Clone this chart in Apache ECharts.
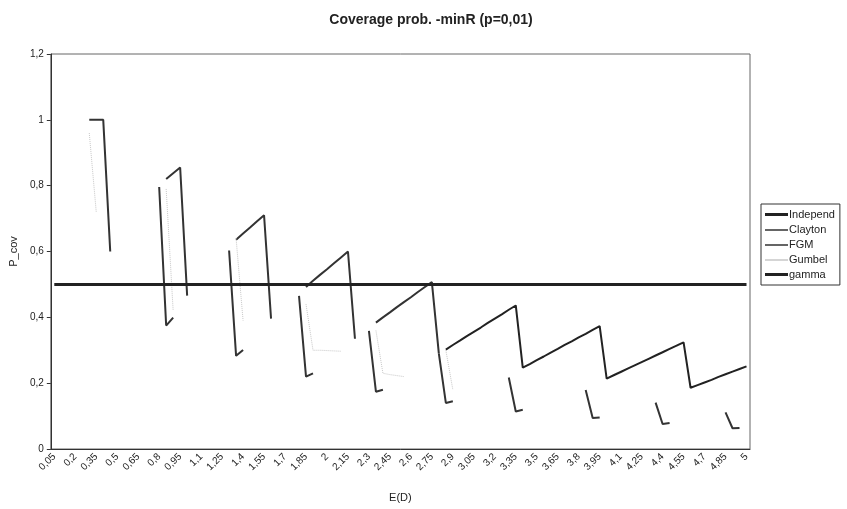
<!DOCTYPE html>
<html>
<head>
<meta charset="utf-8">
<script src="https://cdn.jsdelivr.net/npm/echarts@6/dist/echarts.min.js"></script>
<style>
html,body{margin:0;padding:0;background:#fff;}
#chart{width:847px;height:509px;}
</style>
</head>
<body>
<div id="chart"></div>
<script>
// Category labels (E(D))
var categories = ['0,05','0,1','0,15','0,2','0,25','0,3','0,35','0,4','0,45','0,5',
'0,55','0,6','0,65','0,7','0,75','0,8','0,85','0,9','0,95','1',
'1,05','1,1','1,15','1,2','1,25','1,3','1,35','1,4','1,45','1,5',
'1,55','1,6','1,65','1,7','1,75','1,8','1,85','1,9','1,95','2',
'2,05','2,1','2,15','2,2','2,25','2,3','2,35','2,4','2,45','2,5',
'2,55','2,6','2,65','2,7','2,75','2,8','2,85','2,9','2,95','3',
'3,05','3,1','3,15','3,2','3,25','3,3','3,35','3,4','3,45','3,5',
'3,55','3,6','3,65','3,7','3,75','3,8','3,85','3,9','3,95','4',
'4,05','4,1','4,15','4,2','4,25','4,3','4,35','4,4','4,45','4,5',
'4,55','4,6','4,65','4,7','4,75','4,8','4,85','4,9','4,95','5'];

// Series values as [E(D), P_cov] points (missing E(D) = no value)
var independ = [
 [2.85,0.302],[2.9,0.316],[2.95,0.329],[3.0,0.343],[3.05,0.356],[3.1,0.369],[3.15,0.383],[3.2,0.396],[3.25,0.409],[3.3,0.423],[3.35,0.436],
 [3.4,0.247],[3.45,0.258],[3.5,0.270],[3.55,0.281],[3.6,0.293],[3.65,0.304],[3.7,0.316],[3.75,0.327],[3.8,0.339],[3.85,0.350],[3.9,0.362],[3.95,0.373],
 [4.0,0.214],[4.05,0.224],[4.1,0.234],[4.15,0.244],[4.2,0.254],[4.25,0.264],[4.3,0.274],[4.35,0.284],[4.4,0.294],[4.45,0.304],[4.5,0.314],[4.55,0.324],
 [4.6,0.186],[4.65,0.194],[4.7,0.202],[4.75,0.210],[4.8,0.219],[4.85,0.227],[4.9,0.235],[4.95,0.243],[5.0,0.251]
];
var clayton = [
 [0.3,1.0],[0.35,1.0],[0.4,1.0],[0.45,0.600],
 [0.85,0.820],[0.9,0.838],[0.95,0.855],[1.0,0.466],
 [1.35,0.636],[1.4,0.655],[1.45,0.673],[1.5,0.692],[1.55,0.710],[1.6,0.396],
 [1.85,0.492],[1.9,0.511],[1.95,0.529],[2.0,0.546],[2.05,0.564],[2.1,0.582],[2.15,0.600],[2.2,0.335],
 [2.35,0.384],[2.4,0.400],[2.45,0.415],[2.5,0.431],[2.55,0.446],[2.6,0.461],[2.65,0.477],[2.7,0.492],[2.75,0.507],[2.8,0.290]
];
var fgm = [
 [0.8,0.796],[0.85,0.375],[0.9,0.399],
 [1.3,0.603],[1.35,0.283],[1.4,0.301],
 [1.8,0.465],[1.85,0.220],[1.9,0.230],
 [2.3,0.359],[2.35,0.174],[2.4,0.180],
 [2.8,0.290],[2.85,0.140],[2.9,0.145],
 [3.3,0.217],[3.35,0.114],[3.4,0.119],
 [3.85,0.179],[3.9,0.094],[3.95,0.096],
 [4.35,0.141],[4.4,0.076],[4.45,0.079],
 [4.85,0.111],[4.9,0.063],[4.95,0.064]
];
var gumbel = [
 [0.3,0.960],[0.35,0.720],
 [0.85,0.790],[0.9,0.420],
 [1.35,0.640],[1.4,0.390],
 [1.85,0.440],[1.9,0.300],[1.95,0.300],[2.0,0.299],[2.05,0.298],[2.1,0.297],
 [2.35,0.360],[2.4,0.230],[2.45,0.226],[2.5,0.223],[2.55,0.220],
 [2.85,0.300],[2.9,0.180]
];
var gamma = [[0.05,0.5],[5.0,0.5]];

var yTicks = {min:0, max:1.2, interval:0.2};

function toSeriesData(points){
  var arr = categories.map(function(){return null;});
  points.forEach(function(p){
    var idx = Math.round(p[0]/0.05) - 1;
    arr[idx] = p[1];
  });
  return arr;
}

var chart = echarts.init(document.getElementById('chart'), null, {renderer:'canvas'});
var font = 'Liberation Sans, Arial, sans-serif';
function lineSeries(name, pts, color, width, type, connect){
  return {
    name: name, type: 'line', data: toSeriesData(pts),
    symbol: 'none', showSymbol: false, connectNulls: !!connect,
    lineStyle: {color: color, width: width, type: type || 'solid'},
    itemStyle: {color: color},
    emphasis: {disabled: true},
    animation: false
  };
}
var thickIcon = 'path://M0,0H23V3H0Z';
var thinIcon = 'path://M0,0H23V0.02H0ZM0,1H23V2.4H0Z';
chart.setOption({
  backgroundColor: '#fff',
  animation: false,
  title: {
    text: 'Coverage prob. -minR (p=0,01)',
    left: 426, textAlign: 'center', top: 8,
    textStyle: {fontFamily: font, fontSize: 14, fontWeight: 'bold', color: '#222'}
  },
  legend: {
    orient: 'vertical', left: 761, top: 204,
    itemWidth: 23, itemHeight: 3, itemGap: 4,
    borderColor: '#333', borderWidth: 1, padding: [5, 5, 5, 4],
    textStyle: {fontFamily: font, fontSize: 11, color: '#222', padding: [0,0,0,-4]},
    data: [
      {name: 'Independ', icon: thickIcon},
      {name: 'Clayton', icon: thinIcon},
      {name: 'FGM', icon: thinIcon},
      {name: 'Gumbel', icon: thinIcon},
      {name: 'gamma', icon: thickIcon}
    ]
  },
  grid: {left: 48, right: 97, top: 54, bottom: 60, show: true, borderColor: '#666', borderWidth: 1},
  xAxis: {
    type: 'category', data: categories, boundaryGap: true,
    name: 'E(D)', nameLocation: 'middle', nameGap: 43,
    nameTextStyle: {fontFamily: font, fontSize: 11, color: '#222'},
    axisLine: {lineStyle: {color: '#333', width: 1}},
    axisTick: {interval: 0, length: 4, lineStyle: {color: '#333'}},
    axisLabel: {interval: 2, rotate: 45, fontFamily: font, fontSize: 10, color: '#222', margin: 6},
    splitLine: {show: false}
  },
  yAxis: {
    type: 'value', min: yTicks.min, max: yTicks.max, interval: yTicks.interval,
    name: 'P_cov', nameLocation: 'middle', nameGap: 30,
    nameTextStyle: {fontFamily: font, fontSize: 11, color: '#222'},
    axisLine: {show: true, lineStyle: {color: '#333', width: 1}},
    axisTick: {show: true, length: 4, lineStyle: {color: '#333'}},
    axisLabel: {fontFamily: font, fontSize: 10, color: '#222', margin: 7,
      formatter: function(v){ return String(+v.toFixed(2)).replace('.', ','); }},
    splitLine: {show: false}
  },
  series: [
    lineSeries('Independ', independ, '#222', 2),
    lineSeries('Clayton', clayton, '#333', 2),
    lineSeries('FGM', fgm, '#333', 2),
    lineSeries('Gumbel', gumbel, '#c8c8c8', 1, 'dotted'),
    lineSeries('gamma', gamma, '#222', 3, 'solid', true)
  ]
});
</script>
</body>
</html>
